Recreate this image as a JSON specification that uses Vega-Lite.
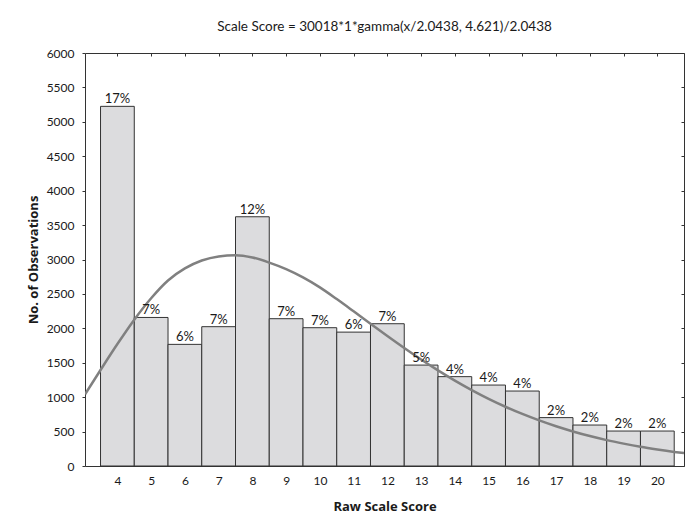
{
  "$schema": "https://vega.github.io/schema/vega-lite/v6.json",
  "autosize": {"type": "none"},
  "width": 599,
  "height": 413,
  "padding": {"left": 85, "top": 53, "right": 12, "bottom": 56},
  "background": "white",
  "config": {
    "font": "Lato",
    "view": {"stroke": null},
    "axis": {"labelFont": "Lato", "titleFont": "Open Sans", "labelFontSize": 12, "labelColor": "#1a1a1a", "titleColor": "#1a1a1a", "domainColor": "#333333", "tickColor": "#333333", "grid": false, "zindex": 1}
  },
  "title": {"text": "Scale Score = 30018*1*gamma(x/2.0438, 4.621)/2.0438", "fontSize": 13.5, "fontWeight": "normal", "font": "Lato", "color": "#1a1a1a", "offset": 14, "anchor": "middle"},
  "datasets": {
    "bars": [
      {"score": 4, "lo": 3.5, "hi": 4.5, "count": 5225, "pct": "17%"},
      {"score": 5, "lo": 4.5, "hi": 5.5, "count": 2158, "pct": "7%"},
      {"score": 6, "lo": 5.5, "hi": 6.5, "count": 1767, "pct": "6%"},
      {"score": 7, "lo": 6.5, "hi": 7.5, "count": 2024, "pct": "7%"},
      {"score": 8, "lo": 7.5, "hi": 8.5, "count": 3621, "pct": "12%"},
      {"score": 9, "lo": 8.5, "hi": 9.5, "count": 2140, "pct": "7%"},
      {"score": 10, "lo": 9.5, "hi": 10.5, "count": 2009, "pct": "7%"},
      {"score": 11, "lo": 10.5, "hi": 11.5, "count": 1945, "pct": "6%"},
      {"score": 12, "lo": 11.5, "hi": 12.5, "count": 2067, "pct": "7%"},
      {"score": 13, "lo": 12.5, "hi": 13.5, "count": 1466, "pct": "5%"},
      {"score": 14, "lo": 13.5, "hi": 14.5, "count": 1298, "pct": "4%"},
      {"score": 15, "lo": 14.5, "hi": 15.5, "count": 1176, "pct": "4%"},
      {"score": 16, "lo": 15.5, "hi": 16.5, "count": 1089, "pct": "4%"},
      {"score": 17, "lo": 16.5, "hi": 17.5, "count": 703, "pct": "2%"},
      {"score": 18, "lo": 17.5, "hi": 18.5, "count": 595, "pct": "2%"},
      {"score": 19, "lo": 18.5, "hi": 19.5, "count": 508, "pct": "2%"},
      {"score": 20, "lo": 19.5, "hi": 20.5, "count": 508, "pct": "2%"}
    ],
    "curve": [
      {"x": 3.04, "y": 1041}, {"x": 3.5, "y": 1395}, {"x": 4, "y": 1772}, {"x": 4.5, "y": 2126},
      {"x": 5, "y": 2437}, {"x": 5.5, "y": 2695}, {"x": 6, "y": 2870}, {"x": 6.5, "y": 2985},
      {"x": 7, "y": 3045}, {"x": 7.5, "y": 3062}, {"x": 8, "y": 3030}, {"x": 8.5, "y": 2955},
      {"x": 9, "y": 2860}, {"x": 9.5, "y": 2740}, {"x": 10, "y": 2595}, {"x": 10.5, "y": 2425},
      {"x": 11, "y": 2247}, {"x": 11.5, "y": 2067}, {"x": 12, "y": 1888}, {"x": 12.5, "y": 1714},
      {"x": 13, "y": 1547}, {"x": 13.5, "y": 1389}, {"x": 14, "y": 1241}, {"x": 14.5, "y": 1103},
      {"x": 15, "y": 976}, {"x": 15.5, "y": 861}, {"x": 16, "y": 756}, {"x": 16.5, "y": 662},
      {"x": 17, "y": 577}, {"x": 17.5, "y": 502}, {"x": 18, "y": 435}, {"x": 18.5, "y": 376},
      {"x": 19, "y": 325}, {"x": 19.5, "y": 279}, {"x": 20, "y": 240}, {"x": 20.5, "y": 205},
      {"x": 20.79, "y": 187}
    ]
  },
  "resolve": {"axis": {"x": "independent", "y": "independent"}},
  "layer": [
    {
      "data": {"name": "bars"},
      "mark": {"type": "bar", "fill": "#dcdcde", "stroke": "#333333", "strokeWidth": 1},
      "encoding": {
        "x": {"field": "lo", "type": "quantitative", "scale": {"domain": [3.04, 20.79], "nice": false, "zero": false},
              "axis": {"orient": "bottom", "values": [4,5,6,7,8,9,10,11,12,13,14,15,16,17,18,19,20], "format": "d", "tickSize": -3, "labelPadding": 12, "title": "Raw Scale Score", "titleFontSize": 13, "titleFontWeight": "bold", "titlePadding": 14}},
        "x2": {"field": "hi"},
        "y": {"field": "count", "type": "quantitative", "scale": {"domain": [0, 6000], "nice": false},
              "axis": {"orient": "left", "values": [0,500,1000,1500,2000,2500,3000,3500,4000,4500,5000,5500,6000], "format": "d", "tickSize": 3, "labelPadding": 8, "title": "No. of Observations", "titleFontSize": 13, "titleFontWeight": "bold", "titlePadding": 6}},
        "y2": {"datum": 0}
      }
    },
    {
      "data": {"name": "curve"},
      "mark": {"type": "line", "color": "#808080", "strokeWidth": 2.5, "interpolate": "monotone", "clip": true},
      "encoding": {
        "x": {"field": "x", "type": "quantitative", "axis": {"orient": "top", "values": [4,5,6,7,8,9,10,11,12,13,14,15,16,17,18,19,20], "labels": false, "tickSize": -3, "title": null}},
        "y": {"field": "y", "type": "quantitative", "axis": {"orient": "right", "values": [0,500,1000,1500,2000,2500,3000,3500,4000,4500,5000,5500,6000], "labels": false, "tickSize": -3, "title": null}}
      }
    },
    {
      "data": {"name": "bars"},
      "mark": {"type": "text", "baseline": "alphabetic", "dy": -3, "fontSize": 13, "font": "Lato", "color": "#1a1a1a"},
      "encoding": {
        "x": {"field": "score", "type": "quantitative", "axis": null},
        "y": {"field": "count", "type": "quantitative", "axis": null},
        "text": {"field": "pct"}
      }
    }
  ]
}
